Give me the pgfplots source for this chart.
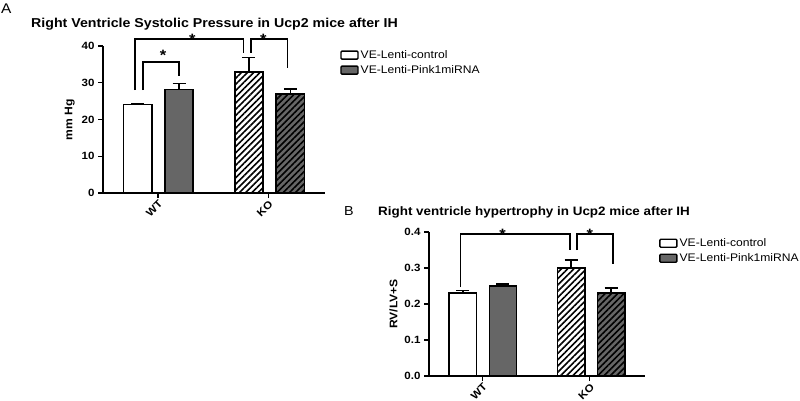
\documentclass[border=0pt]{standalone}
\usepackage{fontspec}
\setmainfont{Liberation Sans}[FakeStretch=1.1]
\usepackage{pgfplots}
\pgfplotsset{compat=1.18}
\usetikzlibrary{patterns.meta}
\definecolor{barGray}{HTML}{666666}

\pgfplotsset{
  ucpbars/.style={
    scale only axis, ybar, bar width=0.255, bar shift=0pt,
    xmin=-0.5, xmax=1.515, ymin=0,
    axis x line*=bottom, axis y line*=left,
    axis line style={line width=1.6pt, black},
    tick align=outside, major tick length=5pt,
    major tick style={line width=1.4pt, black},
    xtick={0,1}, xticklabels={WT,KO},
    tick label style={font=\bfseries\fontsize{10.5}{12}\selectfont},
    x tick label style={rotate=45, anchor=north east, inner sep=1pt},
    /pgf/number format/assume math mode=true,
    ylabel style={font=\bfseries\fontsize{11}{12}\selectfont},
    clip=false,
    every axis plot/.append style={line width=1.6pt, draw=black},
    error bars/y dir=plus, error bars/y explicit,
    error bars/error bar style={line width=1.5pt, black},
    error bars/error mark options={rotate=90, mark size=6.5pt, line width=1.5pt, black},
    legend cell align=left,
    legend image code/.code={\draw[##1, line width=1.4pt, rounded corners=1pt] (0pt,-4pt) rectangle (17pt,4pt);},
    legend style={draw=none, fill=none, inner sep=0pt, anchor=north west,
      font=\fontsize{11}{13}\selectfont, row sep=1.5pt},
  },
  hatchW/.style={fill=white, postaction={pattern color=black, pattern={Lines[angle=45,distance=4.4pt,line width=1.6pt]}}},
  hatchG/.style={fill=barGray, postaction={pattern color=black, pattern={Lines[angle=45,distance=4.4pt,line width=1.6pt]}}},
}
\tikzset{
  bracket/.style={line width=1.5pt, black},
  sig/.style={font=\bfseries\fontsize{15}{15}\selectfont, anchor=base, yshift=-5.8pt, inner sep=0pt},
}

\begin{document}
\begin{tikzpicture}
\path[use as bounding box] (0,0) rectangle (800pt,-401pt);

% panel A
\node[anchor=base west, font=\fontsize{14}{14}\selectfont, inner sep=0pt] at (1pt,-13.5pt) {A};
\node[anchor=base west, font=\bfseries\fontsize{12.9}{14}\selectfont, inner sep=0pt] at (31pt,-27.5pt) {Right Ventricle Systolic Pressure in Ucp2 mice after IH};
\begin{axis}[ucpbars, at={(103pt,-193pt)}, anchor=south west, width=222pt, height=147pt,
  ymax=40, ytick={0,10,20,30,40}, ylabel={mm Hg},
  legend style={at={(1.068,0.985)}}]
\addplot[fill=white] coordinates {(-0.185,24.1) +- (0,0.3)};
\addlegendentry{VE-Lenti-control}
\addplot[fill=barGray] coordinates {(0.19,28.2) +- (0,1.6)};
\addlegendentry{VE-Lenti-Pink1miRNA}
\addplot[hatchW, forget plot] coordinates {(0.825,33.0) +- (0,3.9)};
\addplot[hatchG, forget plot] coordinates {(1.2,26.9) +- (0,1.4)};
\draw[bracket] (axis cs:-0.209,28) |- (axis cs:0.773,41.9) -- (axis cs:0.773,38.1);
\draw[bracket] (axis cs:0.845,38.1) |- (axis cs:1.173,41.9) -- (axis cs:1.173,34);
\draw[bracket] (axis cs:-0.136,28) |- (axis cs:0.191,35.6) -- (axis cs:0.191,31.8);
\node[sig] at (axis cs:0.31,41.9) {*};
\node[sig] at (axis cs:0.955,41.9) {*};
\node[sig] at (axis cs:0.045,37.6) {*};
\end{axis}

% panel B
\node[anchor=base west, font=\fontsize{13}{13}\selectfont, inner sep=0pt] at (344pt,-215.5pt) {B};
\node[anchor=base west, font=\bfseries\fontsize{12.2}{14}\selectfont, inner sep=0pt] at (378pt,-215.5pt) {Right ventricle hypertrophy in Ucp2 mice after IH};
\begin{axis}[ucpbars, at={(429pt,-376pt)}, anchor=south west, width=216pt, height=144pt,
  ymax=0.4, ytick={0,0.1,0.2,0.3,0.4}, ylabel={RV/LV+S},
  yticklabel style={/pgf/number format/.cd, fixed, fixed zerofill, precision=1},
  legend style={at={(1.065,0.97)}}]
\addplot[fill=white] coordinates {(-0.185,0.23) +- (0,0.008)};
\addlegendentry{VE-Lenti-control}
\addplot[fill=barGray] coordinates {(0.19,0.25) +- (0,0.005)};
\addlegendentry{VE-Lenti-Pink1miRNA}
\addplot[hatchW, forget plot] coordinates {(0.825,0.30) +- (0,0.022)};
\addplot[hatchG, forget plot] coordinates {(1.2,0.23) +- (0,0.015)};
\draw[bracket] (axis cs:-0.206,0.247) |- (axis cs:0.813,0.394) -- (axis cs:0.813,0.35);
\draw[bracket] (axis cs:0.879,0.35) |- (axis cs:1.215,0.394) -- (axis cs:1.215,0.311);
\node[sig] at (axis cs:0.187,0.394) {*};
\node[sig] at (axis cs:1.0,0.394) {*};
\end{axis}
\end{tikzpicture}
\end{document}
